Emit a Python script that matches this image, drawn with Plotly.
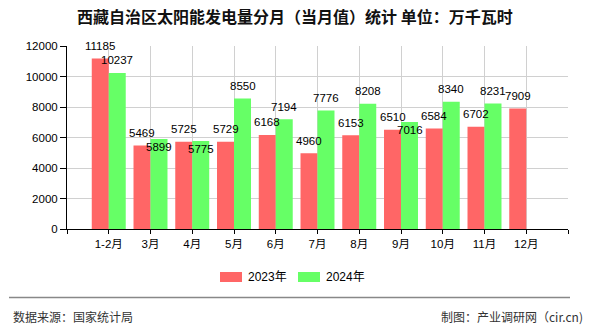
import plotly.graph_objects as go

# Monthly solar generation, Tibet (10,000 kWh)
categories = ["1-2月", "3月", "4月", "5月", "6月", "7月", "8月", "9月", "10月", "11月", "12月"]
values_2023 = [11185, 5469, 5725, 5729, 6168, 4960, 6153, 6510, 6584, 6702, 7909]
values_2024 = [10237, 5899, 5775, 8550, 7194, 7776, 8208, 7016, 8340, 8231, None]
series_names = ["2023年", "2024年"]
y_ticks = [0, 2000, 4000, 6000, 8000, 10000, 12000]

RED = "#FF6666"
GREEN = "#66FF66"
FONT = "Liberation Sans, Noto Sans CJK SC, sans-serif"

W, H = 590, 330
ML, MR, MT, MB = 67, 22, 46, 101
PW, PH = W - ML - MR, H - MT - MB
BARGAP = 0.186


def px_x(px):
    return (px - ML) / PW


def px_y(py):
    return (H - MB - py) / PH


xs = list(range(len(categories)))

fig = go.Figure()
fig.add_trace(go.Bar(x=xs, y=values_2023, name=series_names[0],
                     marker=dict(color=RED, line=dict(width=0))))
fig.add_trace(go.Bar(x=xs, y=values_2024, name=series_names[1],
                     marker=dict(color=GREEN, line=dict(width=0))))

# value labels above each bar; a few are nudged below the top to avoid overlap
offset = (1 - BARGAP) / 4
tucked = {(1, 1), (1, 2), (1, 7)}
annotations = []
for s, vals in enumerate([values_2023, values_2024]):
    for i, v in enumerate(vals):
        if v is None:
            continue
        annotations.append(dict(
            x=i + (-offset if s == 0 else offset), y=v, xref="x", yref="y",
            text=str(v), showarrow=False, yanchor="middle", xanchor="center",
            yshift=-8 if (s, i) in tucked else 12.5,
            font=dict(family=FONT, size=11.5, color="#000"),
        ))

# title
annotations.append(dict(
    x=px_x(W / 2), y=px_y(16.5), xref="paper", yref="paper",
    text="<b>西藏自治区太阳能发电量分月（当月值）统计 单位：万千瓦时</b>",
    showarrow=False, xanchor="center", yanchor="middle",
    font=dict(family="Noto Sans CJK SC", size=16, color="#111"),
))

# legend text
for name, left in zip(series_names, [246, 324]):
    annotations.append(dict(
        x=px_x(left), y=px_y(277), xref="paper", yref="paper", text=name,
        showarrow=False, xanchor="left", yanchor="middle",
        font=dict(family=FONT, size=12, color="#000"),
    ))

# footer
annotations.append(dict(
    x=px_x(11), y=px_y(316), xref="paper", yref="paper", text="数据来源：国家统计局",
    showarrow=False, xanchor="left", yanchor="middle",
    font=dict(family="Noto Sans CJK SC", size=12, color="#333"),
))
annotations.append(dict(
    x=px_x(585), y=px_y(316), xref="paper", yref="paper", text="制图：产业调研网（cir.cn)",
    showarrow=False, xanchor="right", yanchor="middle",
    font=dict(family="Noto Sans CJK SC", size=12, color="#333"),
))

shapes = [
    dict(type="rect", xref="paper", yref="paper",
         x0=px_x(220), x1=px_x(242), y0=px_y(282), y1=px_y(272),
         fillcolor=RED, line=dict(width=0)),
    dict(type="rect", xref="paper", yref="paper",
         x0=px_x(298), x1=px_x(320), y0=px_y(282), y1=px_y(272),
         fillcolor=GREEN, line=dict(width=0)),
    dict(type="line", xref="paper", yref="paper",
         x0=px_x(9), x1=px_x(570), y0=px_y(297.5), y1=px_y(297.5),
         line=dict(color="#888888", width=1.5)),
]

fig.update_layout(
    width=W, height=H,
    margin=dict(l=ML, r=MR, t=MT, b=MB, pad=0),
    paper_bgcolor="white", plot_bgcolor="white",
    barmode="group", bargap=BARGAP, bargroupgap=0,
    showlegend=False,
    annotations=annotations, shapes=shapes,
    xaxis=dict(
        range=[-1, len(categories)],
        tickmode="array",
        tickvals=list(range(-1, len(categories) + 1)),
        ticktext=[""] + categories + [""],
        showgrid=True, gridcolor="#d0d0d0", gridwidth=1,
        showline=True, linecolor="#000", linewidth=1,
        ticks="outside", ticklen=4, tickcolor="#000",
        tickfont=dict(family=FONT, size=11.5, color="#000"),
        zeroline=False, fixedrange=True,
    ),
    yaxis=dict(
        range=[0, 12000],
        tickmode="array", tickvals=y_ticks,
        ticktext=[str(t) for t in y_ticks],
        showgrid=True, gridcolor="#d0d0d0", gridwidth=1,
        showline=True, linecolor="#000", linewidth=1,
        ticks="outside", ticklen=6, tickcolor="#000",
        tickfont=dict(family=FONT, size=11.5, color="#000"),
        zeroline=False, fixedrange=True,
    ),
)

fig.write_html("out.html")
